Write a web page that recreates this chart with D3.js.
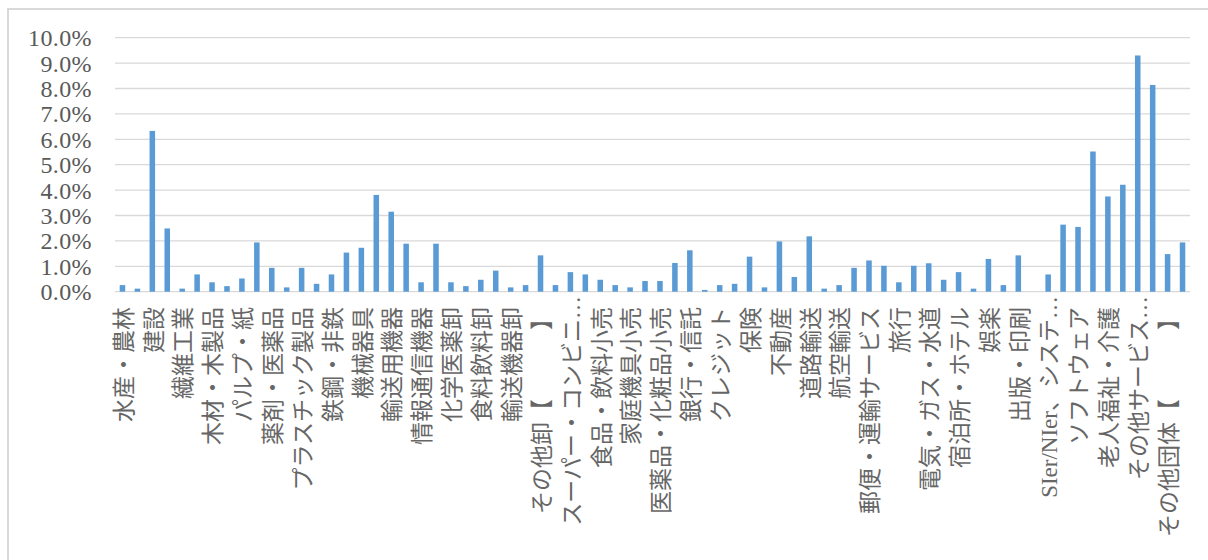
<!DOCTYPE html>
<html>
<head>
<meta charset="utf-8">
<script src="https://cdn.jsdelivr.net/npm/d3@7"></script>
<style>
  html, body { margin: 0; padding: 0; background: #fff; }
  #chart { width: 1208px; height: 560px; }
</style>
</head>
<body>
<div id="chart"></div>
<script>
// Labels are only shown for every other category (Excel skips the rest)
const categories = [
  '水産・農林', '', '建設', '', '繊維工業', '', '木材・木製品', '', 'パルプ・紙', '',
  '薬剤・医薬品', '', 'プラスチック製品', '', '鉄鋼・非鉄', '', '機械器具', '', '輸送用機器', '',
  '情報通信機器', '', '化学医薬卸', '', '食料飲料卸', '', '輸送機器卸', '', 'その他卸【　　　】', '',
  'スーパー・コンビニ…', '', '食品・飲料小売', '', '家庭機具小売', '', '医薬品・化粧品小売', '', '銀行・信託', '',
  'クレジット', '', '保険', '', '不動産', '', '道路輸送', '', '航空輸送', '',
  '郵便・運輸サービス', '', '旅行', '', '電気・ガス・水道', '', '宿泊所・ホテル', '', '娯楽', '',
  '出版・印刷', '', 'SIer/NIer、システ…', '', 'ソフトウェア', '', '老人福祉・介護', '', 'その他サービス…', '',
  'その他団体【　　　】', ''
];

// share of total, in percent
const shares = [
  0.26, 0.12, 6.33, 2.49, 0.12, 0.68, 0.37, 0.22, 0.52, 1.94,
  0.94, 0.17, 0.94, 0.31, 0.68, 1.54, 1.73, 3.81, 3.15, 1.89,
  0.37, 1.89, 0.37, 0.22, 0.47, 0.83, 0.17, 0.26, 1.43, 0.26,
  0.77, 0.68, 0.47, 0.26, 0.17, 0.42, 0.42, 1.13, 1.63, 0.07,
  0.26, 0.31, 1.38, 0.17, 1.98, 0.58, 2.18, 0.12, 0.26, 0.94,
  1.23, 1.02, 0.37, 1.02, 1.12, 0.47, 0.77, 0.12, 1.29, 0.26,
  1.43, 0, 0.68, 2.64, 2.55, 5.52, 3.75, 4.21, 9.30, 8.14,
  1.48, 1.94
];

const yTicks = [0, 1, 2, 3, 4, 5, 6, 7, 8, 9, 10];

const W = 1208, H = 560;
const plot = { left: 115, right: 1190, top: 37.7, bottom: 291.7 };

const svg = d3.select('#chart')
  .append('svg')
  .attr('width', W)
  .attr('height', H);

// chart area border
svg.append('rect')
  .attr('x', 8)
  .attr('y', 9)
  .attr('width', W)
  .attr('height', H)
  .attr('fill', '#fff')
  .attr('stroke', '#d9d9d9')
  .attr('stroke-width', 2);

const x = d3.scaleBand()
  .domain(d3.range(shares.length))
  .range([plot.left, plot.right])
  .paddingInner(0.63)
  .paddingOuter(0.315);

const y = d3.scaleLinear()
  .domain([0, 10])
  .range([plot.bottom, plot.top]);

// gridlines
svg.append('g')
  .selectAll('line')
  .data(yTicks)
  .join('line')
  .attr('x1', plot.left)
  .attr('x2', plot.right)
  .attr('y1', d => y(d))
  .attr('y2', d => y(d))
  .attr('stroke', '#d9d9d9')
  .attr('stroke-width', 1.3);

// y tick labels
svg.append('g')
  .selectAll('text')
  .data(yTicks)
  .join('text')
  .attr('x', 92)
  .attr('y', d => y(d))
  .attr('dy', '0.35em')
  .attr('text-anchor', 'end')
  .attr('font-family', '"Liberation Serif", "DejaVu Serif", serif')
  .attr('font-size', '24px')
  .attr('letter-spacing', '0.4px')
  .attr('fill', '#595959')
  .text(d => d.toFixed(1) + '%');

// bars
svg.append('g')
  .selectAll('rect')
  .data(shares)
  .join('rect')
  .attr('x', (d, i) => x(i))
  .attr('y', d => y(d))
  .attr('width', x.bandwidth())
  .attr('height', d => y(0) - y(d))
  .attr('fill', '#5b9bd5');

// category labels, rotated, hanging below the axis
const cx = i => x(i) + x.bandwidth() / 2;
svg.append('g')
  .selectAll('text')
  .data(categories.map((c, i) => ({ c, i })).filter(d => d.c))
  .join('text')
  .attr('transform', d => `translate(${cx(d.i) + 1},${d.c.endsWith('…') ? 296 : 307}) rotate(-90)`)
  .attr('dy', '0.36em')
  .attr('text-anchor', 'end')
  .attr('font-family', '"Liberation Serif", "Noto Sans CJK JP", sans-serif')
  .attr('font-size', '23px')
  .attr('fill', '#666666')
  .text(d => d.c);
</script>
</body>
</html>
